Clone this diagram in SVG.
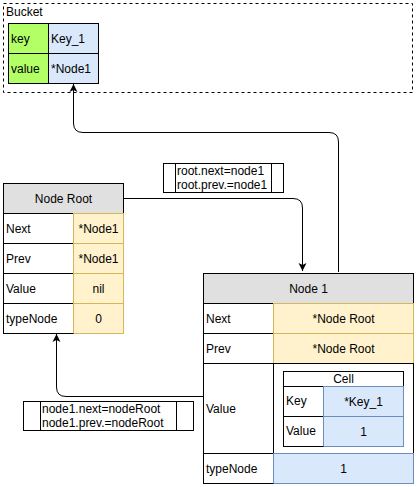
<svg xmlns="http://www.w3.org/2000/svg" width="417" height="487" viewBox="0 0 417 487">
<defs>
<style>
text{font-family:"Liberation Sans",Arial,sans-serif;font-size:12px;fill:#000}
.c{text-anchor:middle}
.k{fill:#fff;stroke:#000;stroke-width:1}
.y{fill:#fff2cc;stroke:#d6b656;stroke-width:1}
.b{fill:#dae8fc;stroke:#6c8ebf;stroke-width:1}
.g{fill:#b3ff66;stroke:#000;stroke-width:1}
.h{fill:#e0e0e0;stroke:#000;stroke-width:1}
.bl{fill:#dae8fc;stroke:#000;stroke-width:1}
.e{fill:none;stroke:#000;stroke-width:1}
</style>
<marker id="ah" markerWidth="10" markerHeight="10" refX="9" refY="5" orient="auto" markerUnits="userSpaceOnUse">
<path d="M1,1 L9,5 L1,9 L3,5 Z" fill="#000"/>
</marker>
</defs>
<g id="bucket">
<rect x="3.5" y="3.5" width="409" height="89" fill="#fff" stroke="#000" stroke-dasharray="3 3"/>
<text x="6" y="16">Bucket</text>
<rect class="g" x="8.5" y="23.5" width="40" height="30"/>
<rect class="bl" x="48.5" y="23.5" width="50" height="30"/>
<rect class="g" x="8.5" y="53.5" width="40" height="30"/>
<rect class="bl" x="48.5" y="53.5" width="50" height="30"/>
<text x="11" y="42.5">key</text>
<text x="51" y="42.5">Key_1</text>
<text x="11" y="72.5">value</text>
<text x="51" y="72.5">*Node1</text>
</g>
<g id="connectors" fill="none" stroke="#000">
<path d="M338.5,272 V142 Q338.5,132.5 329,132.5 H83 Q73.5,132.5 73.5,123 V84" marker-end="url(#ah)"/>
<path d="M123,198.5 H293 Q302.5,198.5 302.5,208 V271" marker-end="url(#ah)"/>
<path d="M203,396.5 H66 Q56.5,396.5 56.5,387 V334" marker-end="url(#ah)"/>
</g>
<g id="label1">
<rect class="k" x="163.5" y="163.5" width="120" height="29"/>
<line class="e" x1="175.5" y1="163.5" x2="175.5" y2="192.5"/>
<line class="e" x1="271.5" y1="163.5" x2="271.5" y2="192.5"/>
<text x="177" y="175">root.next=node1</text>
<text x="177" y="189">root.prev.=node1</text>
</g>
<g id="label2">
<rect class="k" x="23.5" y="401.5" width="170" height="29"/>
<line class="e" x1="40.5" y1="401.5" x2="40.5" y2="430.5"/>
<line class="e" x1="176.5" y1="401.5" x2="176.5" y2="430.5"/>
<text x="42" y="413">node1.next=nodeRoot</text>
<text x="42" y="427">node1.prev.=nodeRoot</text>
</g>
<g id="node-root">
<rect class="h" x="3.5" y="183.5" width="120" height="30"/>
<text class="c" x="63.5" y="202.5">Node Root</text>
<rect class="k" x="3.5" y="213.5" width="70" height="30"/>
<rect class="y" x="73.5" y="213.5" width="50" height="30"/>
<rect class="k" x="3.5" y="243.5" width="70" height="30"/>
<rect class="y" x="73.5" y="243.5" width="50" height="30"/>
<rect class="k" x="3.5" y="273.5" width="70" height="30"/>
<rect class="y" x="73.5" y="273.5" width="50" height="30"/>
<rect class="k" x="3.5" y="303.5" width="70" height="30"/>
<rect class="y" x="73.5" y="303.5" width="50" height="30"/>
<line class="e" x1="3.5" y1="333.5" x2="73.5" y2="333.5"/>
<text x="6" y="232.5">Next</text>
<text class="c" x="98.5" y="232.5">*Node1</text>
<text x="6" y="262.5">Prev</text>
<text class="c" x="98.5" y="262.5">*Node1</text>
<text x="6" y="292.5">Value</text>
<text class="c" x="98.5" y="292.5">nil</text>
<text x="6" y="322.5">typeNode</text>
<text class="c" x="98.5" y="322.5">0</text>
</g>
<g id="node-1">
<rect class="h" x="203.5" y="273.5" width="210" height="30"/>
<text class="c" x="308.5" y="292.5">Node 1</text>
<rect class="k" x="203.5" y="303.5" width="70" height="30"/>
<rect class="y" x="273.5" y="303.5" width="140" height="30"/>
<rect class="k" x="203.5" y="333.5" width="70" height="30"/>
<rect class="y" x="273.5" y="333.5" width="140" height="30"/>
<rect class="k" x="203.5" y="363.5" width="70" height="90"/>
<rect class="k" x="273.5" y="363.5" width="140" height="90"/>
<rect class="k" x="203.5" y="453.5" width="70" height="30"/>
<rect class="b" x="273.5" y="453.5" width="140" height="30"/>
<line class="e" x1="203.5" y1="483.5" x2="273.5" y2="483.5"/>
<text x="206" y="322.5">Next</text>
<text class="c" x="343.5" y="322.5">*Node Root</text>
<text x="206" y="352.5">Prev</text>
<text class="c" x="343.5" y="352.5">*Node Root</text>
<text x="206" y="412.5">Value</text>
<text x="206" y="472.5">typeNode</text>
<text class="c" x="343.5" y="472.5">1</text>
</g>
<g id="cell">
<rect class="k" x="283.5" y="371.5" width="120" height="15"/>
<text class="c" x="343.5" y="383">Cell</text>
<rect class="k" x="283.5" y="386.5" width="40" height="30"/>
<rect class="b" x="323.5" y="386.5" width="80" height="30"/>
<rect class="k" x="283.5" y="416.5" width="40" height="30"/>
<rect class="b" x="323.5" y="416.5" width="80" height="30"/>
<line class="e" x1="283.5" y1="446.5" x2="323.5" y2="446.5"/>
<text x="286" y="405">Key</text>
<text class="c" x="363.5" y="405.5">*Key_1</text>
<text x="286" y="435">Value</text>
<text class="c" x="363.5" y="435.5">1</text>
</g>
</svg>
